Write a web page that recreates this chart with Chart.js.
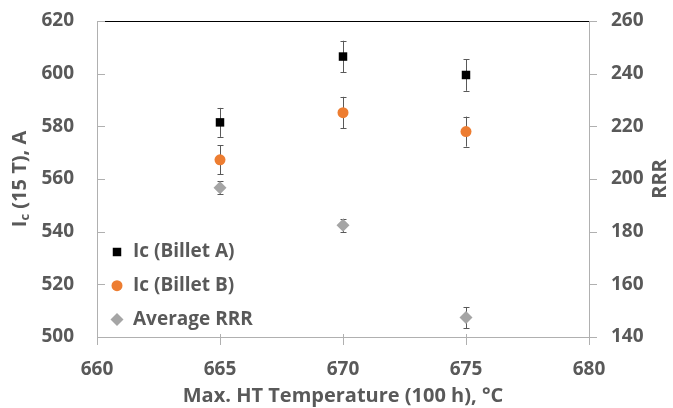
<!DOCTYPE html>
<html>
<head>
<meta charset="utf-8">
<script src="https://cdn.jsdelivr.net/npm/chart.js@4"></script>
<style>
  body { margin: 0; background: #fff; }
  #wrap { width: 673px; height: 408px; }
</style>
</head>
<body>
<div id="wrap"><canvas id="grafico" width="673" height="408"></canvas></div>
<script>
// dados
const temperaturas = [665, 670, 675];
const icA = [581.5, 606.5, 599.5];
const icAErro = [5.5, 6, 6];
const icB = [567.3, 585.2, 578];
const icBErro = [5.5, 6, 5.7];
const rrr = [196.7, 182.4, 147.4];
const rrrErro = [2.4, 2.5, 4];

const nomes = ['Ic (Billet A)', 'Ic (Billet B)', 'Average RRR'];
const corTexto = '#595959';
const corEixo = '#b0b0b0';
const fonte = 'bold 19px "Open Sans"';
const fonteTitulo = 'bold 20px "Open Sans"';

function pontos(valores) {
  return temperaturas.map((t, i) => ({ x: t, y: valores[i] }));
}

// barras de erro, eixos, títulos e legenda desenhados à mão
const desenhoExtra = {
  id: 'desenhoExtra',
  beforeDatasetsDraw(chart) {
    const ctx = chart.ctx;
    const a = chart.chartArea;
    const sx = chart.scales.x, sy = chart.scales.y, sy2 = chart.scales.y2;
    ctx.save();
    // bordas
    ctx.lineWidth = 1;
    ctx.strokeStyle = corEixo;
    ctx.beginPath();
    ctx.moveTo(a.left + 0.5, a.top);
    ctx.lineTo(a.left + 0.5, a.bottom + 0.5);
    ctx.lineTo(a.right + 0.5, a.bottom + 0.5);
    ctx.lineTo(a.right + 0.5, a.top);
    ctx.stroke();
    ctx.strokeStyle = '#000';
    ctx.beginPath();
    ctx.moveTo(a.left + 7, a.top + 0.5);
    ctx.lineTo(a.right + 0.5, a.top + 0.5);
    ctx.stroke();
    // marcas
    ctx.strokeStyle = corEixo;
    ctx.beginPath();
    sy.ticks.forEach(t => {
      const y = Math.round(sy.getPixelForValue(t.value)) + 0.5;
      ctx.moveTo(a.left, y); ctx.lineTo(a.left + 8, y);
    });
    sy2.ticks.forEach(t => {
      const y = Math.round(sy2.getPixelForValue(t.value)) + 0.5;
      ctx.moveTo(a.right, y); ctx.lineTo(a.right + 8, y);
    });
    sx.ticks.forEach(t => {
      const x = Math.round(sx.getPixelForValue(t.value)) + 0.5;
      ctx.moveTo(x, a.bottom - 3); ctx.lineTo(x, a.bottom + 8);
    });
    ctx.stroke();

    // barras de erro
    ctx.strokeStyle = '#595959';
    chart.data.datasets.forEach(ds => {
      const escala = chart.scales[ds.yAxisID];
      ds.data.forEach((p, i) => {
        const x = Math.round(sx.getPixelForValue(p.x)) + 0.5;
        const y1 = escala.getPixelForValue(p.y + ds.erros[i]);
        const y2 = escala.getPixelForValue(p.y - ds.erros[i]);
        ctx.beginPath();
        ctx.moveTo(x, y1); ctx.lineTo(x, y2);
        ctx.moveTo(x - 3, Math.round(y1) + 0.5); ctx.lineTo(x + 3, Math.round(y1) + 0.5);
        ctx.moveTo(x - 3, Math.round(y2) + 0.5); ctx.lineTo(x + 3, Math.round(y2) + 0.5);
        ctx.stroke();
      });
    });

    // títulos dos eixos
    ctx.fillStyle = corTexto;
    ctx.font = fonteTitulo;
    ctx.textAlign = 'center';
    ctx.textBaseline = 'middle';
    ctx.fillText('Max. HT Temperature (100 h), °C', (a.left + a.right) / 2, 396);

    const meioY = (a.top + a.bottom) / 2;
    ctx.save();
    ctx.translate(20, meioY);
    ctx.rotate(-Math.PI / 2);
    const p1 = 'I', sub = 'c', p2 = ' (15 T), A';
    const w1 = ctx.measureText(p1).width;
    const w2 = ctx.measureText(p2).width;
    ctx.font = 'bold 13px "Open Sans"';
    const ws = ctx.measureText(sub).width;
    const total = w1 + ws + w2;
    let xx = -total / 2;
    ctx.textAlign = 'left';
    ctx.font = fonteTitulo;
    ctx.fillText(p1, xx, 0); xx += w1;
    ctx.font = 'bold 13px "Open Sans"';
    ctx.fillText(sub, xx, 5); xx += ws;
    ctx.font = fonteTitulo;
    ctx.fillText(p2, xx, 0);
    ctx.restore();

    ctx.save();
    ctx.translate(660, meioY);
    ctx.rotate(-Math.PI / 2);
    ctx.textAlign = 'center';
    ctx.fillText('RRR', 0, 0);
    ctx.restore();

    // legenda dentro da área
    ctx.textAlign = 'left';
    chart.data.datasets.forEach((ds, i) => {
      const y = 252 + i * 33.7;
      ctx.fillStyle = ds.backgroundColor;
      Chart.helpers.drawPoint(ctx, {
        pointStyle: ds.pointStyle,
        radius: ds.pointRadius,
        rotation: 0,
        borderWidth: 0
      }, 117, y);
      ctx.fillStyle = corTexto;
      ctx.font = fonte;
      ctx.fillText(ds.label, 133, y);
    });
    ctx.restore();
  }
};

function ajustarVertical(largura) {
  return s => {
    s.width = largura;
    s.paddingTop = 0;
    s.paddingBottom = 0;
  };
}

new Chart(document.getElementById('grafico'), {
  type: 'scatter',
  data: {
    datasets: [
      { label: nomes[0], data: pontos(icA), erros: icAErro, yAxisID: 'y',
        pointStyle: 'rect', pointRadius: 6, backgroundColor: '#000', borderWidth: 0 },
      { label: nomes[1], data: pontos(icB), erros: icBErro, yAxisID: 'y',
        pointStyle: 'circle', pointRadius: 5.5, backgroundColor: '#ED7D31', borderWidth: 0 },
      { label: nomes[2], data: pontos(rrr), erros: rrrErro, yAxisID: 'y2',
        pointStyle: 'rectRot', pointRadius: 6.5, backgroundColor: '#A5A5A5', borderWidth: 0 }
    ]
  },
  options: {
    responsive: false,
    animation: false,
    layout: { padding: { top: 21, left: 0, right: 0, bottom: 0 } },
    plugins: { legend: { display: false }, tooltip: { enabled: false } },
    scales: {
      x: {
        type: 'linear', min: 660, max: 680,
        ticks: { stepSize: 5, padding: 21, color: corTexto, font: { family: 'Open Sans', size: 19, weight: 'bold' } },
        grid: { display: false, drawTicks: false },
        border: { display: false },
        afterFit: s => { s.height = 71; s.paddingLeft = 0; s.paddingRight = 0; }
      },
      y: {
        position: 'left', min: 500, max: 620,
        ticks: { stepSize: 20, padding: 23, color: corTexto, font: { family: 'Open Sans', size: 19, weight: 'bold' } },
        grid: { display: false, drawTicks: false },
        border: { display: false },
        afterFit: ajustarVertical(97)
      },
      y2: {
        position: 'right', min: 140, max: 260,
        ticks: { stepSize: 20, padding: 22, color: corTexto, font: { family: 'Open Sans', size: 19, weight: 'bold' } },
        grid: { display: false, drawTicks: false },
        border: { display: false },
        afterFit: ajustarVertical(84)
      }
    }
  },
  plugins: [desenhoExtra]
});
</script>
</body>
</html>
